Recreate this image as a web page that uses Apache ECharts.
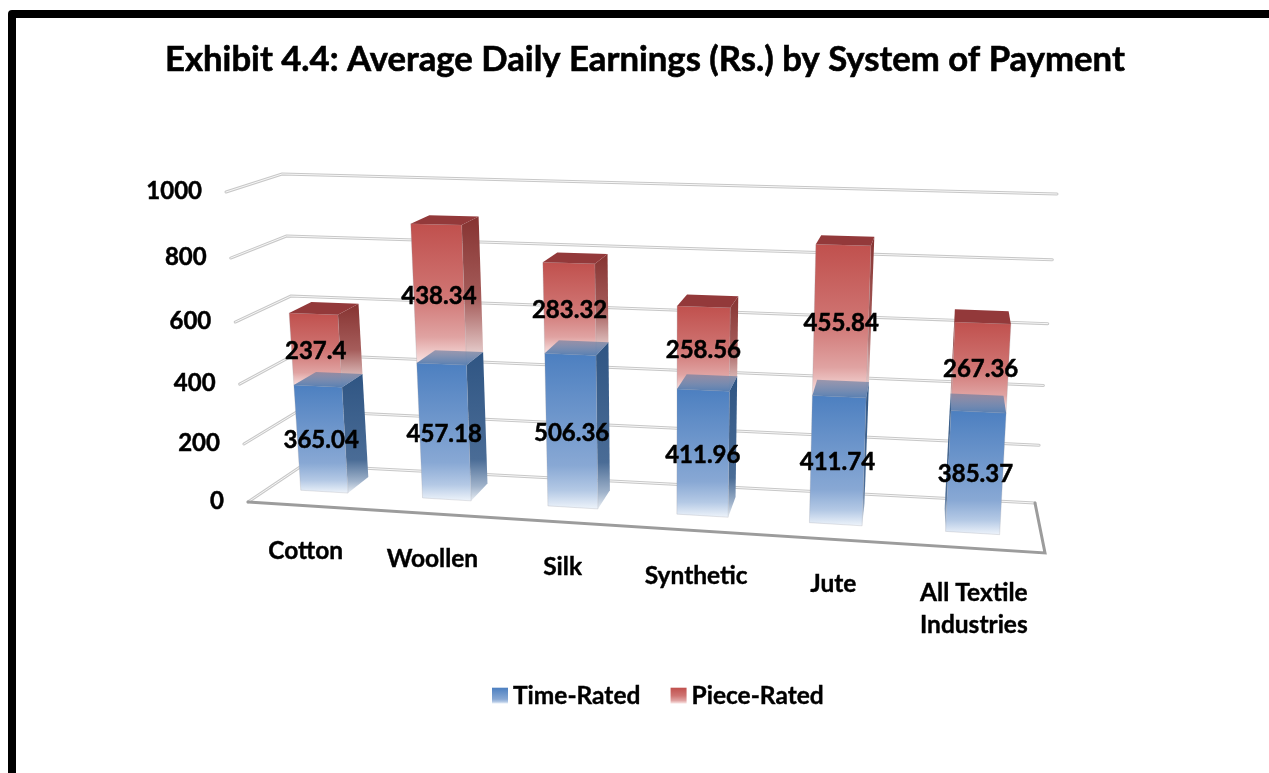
<!DOCTYPE html>
<html><head><meta charset="utf-8">
<style>html,body{margin:0;padding:0;background:#fff}#c{width:1269px;height:773px}</style>
<script src="https://cdn.jsdelivr.net/npm/echarts@6/dist/echarts.min.js"></script>
</head><body><div id="c"></div>
<script>
const titleText = 'Exhibit 4.4: Average Daily Earnings (Rs.) by System of Payment';
const categories = ['Cotton', 'Woollen', 'Silk', 'Synthetic', 'Jute', 'All Textile\nIndustries'];
const timeRated = [365.04, 457.18, 506.36, 411.96, 411.74, 385.37];
const pieceRated = [237.4, 438.34, 283.32, 258.56, 455.84, 267.36];
const tickValues = [0, 200, 400, 600, 800, 1000];

const FONT = 'Lato, "Open Sans", sans-serif';
const G = echarts.graphic;
const grad = (stops) => new G.LinearGradient(0, 0, 0, 1, stops.map((c, i) => ({offset: c[0], color: c[1]})));

// Perspective box calibration: corners of the 3D plot box (front/back, floor/top)
const box = {
  fl0: [248, 502], fr0: [1045, 553], bl0: [303, 465], br0: [1035, 503],
  fl1: [226, 192], fr1: [1064, 208], bl1: [282, 174], br1: [1057, 194]
};
const mix = (a, b, t) => [a[0] + (b[0] - a[0]) * t, a[1] + (b[1] - a[1]) * t];
function project(u, v, d) {
  const w = v * (0.9186 + 0.0814 * v);
  const base = mix(mix(box.fl0, box.fr0, u), mix(box.bl0, box.br0, u), d);
  const top = mix(mix(box.fl1, box.fr1, u), mix(box.bl1, box.br1, u), d);
  return mix(base, top, w);
}
const warpU = (u) => -0.00546 + 0.9279 * u + 0.0781 * u * u;
const BAR_BAND = 0.39, D_BACK = 0.79;
const dFront = (u) => 0.375 - 0.065 * u;

// Grid coordinates -> normalised box coordinates, via the library's own scales
function toBox(params, api, cat, val) {
  const c = api.coord([cat, val]);
  const s = params.coordSys;
  return {u: (c[0] - s.x) / s.width, v: (s.y + s.height - c[1]) / s.height, bw: api.size([1, 0])[0] / s.width};
}

const skins = {
  time: {
    front: grad([[0, '#4c7fc0'], [0.72, '#88a8d4'], [0.88, '#b4c9e5'], [1, '#f0f5fb']]),
    side: grad([[0, '#2f5583'], [0.72, '#4a6c96'], [0.9, '#9fb2ca'], [1, '#e8edf3']]),
    top: grad([[0, 'rgba(100,122,160,0.6)'], [1, 'rgba(84,124,176,0.97)']])
  },
  piece: {
    front: grad([[0, '#c0504d'], [0.5, '#cf7472'], [0.8, '#e0a3a2'], [0.95, '#f5d8d7'], [1, '#fbeeee']]),
    side: grad([[0, '#863331'], [0.55, '#a55c5a'], [0.85, '#d8b4b3'], [1, '#f3e6e6']]),
    top: '#93393a'
  }
};

function barRenderer(skin) {
  return function (params, api) {
    const cat = api.value(0), lo = api.value(1), hi = api.value(2);
    const a = toBox(params, api, cat, lo), b = toBox(params, api, cat, hi);
    const uL = warpU(a.u - a.bw * BAR_BAND / 2), uR = warpU(a.u + a.bw * BAR_BAND / 2);
    const uC = warpU(a.u), dF = dFront(uC);
    const poly = (pts, fill, z2, stroke) => ({
      type: 'polygon', z2: z2, shape: {points: pts},
      style: {fill: fill, stroke: stroke || null, lineWidth: stroke ? 1 : 0}
    });
    const quad = (p, q, r, s) => [p, q, r, s];
    const kids = [];
    const leftBack = project(uL, a.v, D_BACK), leftFront = project(uL, a.v, dF);
    const rightBack = project(uR, a.v, D_BACK), rightFront = project(uR, a.v, dF);
    if (leftBack[0] < leftFront[0]) {
      kids.push(poly(quad(leftFront, leftBack, project(uL, b.v, D_BACK), project(uL, b.v, dF)), skin.side, 1));
    }
    if (rightBack[0] > rightFront[0]) {
      kids.push(poly(quad(rightFront, rightBack, project(uR, b.v, D_BACK), project(uR, b.v, dF)), skin.side, 1));
    }
    kids.push(poly(quad(leftFront, rightFront, project(uR, b.v, dF), project(uL, b.v, dF)),
      skin.front, 2, 'rgba(150,150,160,0.25)'));
    kids.push(poly(quad(project(uL, b.v, dF), project(uR, b.v, dF), project(uR, b.v, D_BACK), project(uL, b.v, D_BACK)), skin.top, 3));
    const mid = project(uC, (a.v + b.v) / 2, dF);
    kids.push({
      type: 'text', z2: 100,
      style: {x: mid[0], y: mid[1] + 1, text: String(api.value(3)), fill: '#000', stroke: '#000', lineWidth: 0.5,
        font: 'bold 24px ' + FONT, align: 'center', verticalAlign: 'middle'}
    });
    return {type: 'group', children: kids};
  };
}

function wallRenderer(params, api) {
  const val = api.value(0);
  const v = toBox(params, api, 0, val).v;
  const fl = project(0, v, 0), bl = project(0, v, 1), br = project(1, v, 1);
  const line = (pts, stroke, w, z2) => ({
    type: 'polyline', z2: z2, shape: {points: pts},
    style: {fill: null, stroke: stroke, lineWidth: w, lineJoin: 'miter', lineCap: 'round'}
  });
  const kids = [line([fl, bl, br], '#c8c8c8', 3, 1), line([fl, bl, br], '#f7f7f7', 1, 2)];
  if (val === 0) {
    const fr = project(1, 0, 0);
    kids.push(line([fl, fr, br], '#9c9c9c', 3, 3));
  }
  kids.push({
    type: 'text', z2: 5,
    style: {x: fl[0] - 24, y: fl[1] - 0.5, text: String(val), fill: '#000', stroke: '#000', lineWidth: 0.5,
      font: 'bold 24px ' + FONT, align: 'right', verticalAlign: 'middle'}
  });
  return {type: 'group', children: kids};
}

function categoryRenderer(params, api) {
  const cat = api.value(0);
  const a = toBox(params, api, cat, 0);
  const p = project(warpU(a.u), 0, 0);
  return {
    type: 'text',
    style: {x: p[0], y: p[1] + 29, text: categories[cat], fill: '#000', stroke: '#000', lineWidth: 0.4,
      font: 'bold 24.5px ' + FONT, lineHeight: 32, align: 'center', verticalAlign: 'top'}
  };
}

const catIdx = categories.map((_, i) => i);
const chart = echarts.init(document.getElementById('c'), null, {renderer: 'canvas', width: 1269, height: 773});
chart.setOption({
  backgroundColor: '#fff',
  animation: false,
  title: {text: titleText, left: 165, top: 42, padding: 0,
    textStyle: {color: '#000', fontFamily: FONT, fontWeight: 'bold', fontSize: 34.7, textBorderColor: '#000', textBorderWidth: 0.6}},
  legend: {
    left: 492, top: 683, padding: 0, itemWidth: 16, itemHeight: 16, itemGap: 30, selectedMode: false, icon: 'rect',
    textStyle: {color: '#000', fontFamily: FONT, fontWeight: 'bold', fontSize: 24.5, textBorderColor: '#000', textBorderWidth: 0.4},
    data: [
      {name: 'Time-Rated', itemStyle: {color: skins.time.front}},
      {name: 'Piece-Rated', itemStyle: {color: skins.piece.front}}
    ]
  },
  grid: {left: 100, top: 100, width: 1000, height: 500},
  xAxis: {type: 'category', data: categories, show: false},
  yAxis: {type: 'value', min: 0, max: 1000, interval: 200, show: false},
  series: [
    {type: 'custom', name: 'walls', z: 1, silent: true, renderItem: wallRenderer,
      data: tickValues.map(v => [v]), encode: {y: 0}, clip: false},
    {type: 'custom', name: 'categories', z: 1, silent: true, renderItem: categoryRenderer,
      data: catIdx.map(i => [i]), encode: {x: 0}, clip: false},
    {type: 'custom', name: 'Piece-Rated', z: 2, renderItem: barRenderer(skins.piece), clip: false,
      itemStyle: {color: skins.piece.front}, encode: {x: 0, y: [1, 2]},
      data: catIdx.map(i => [i, timeRated[i], timeRated[i] + pieceRated[i], pieceRated[i]])},
    {type: 'custom', name: 'Time-Rated', z: 3, renderItem: barRenderer(skins.time), clip: false,
      itemStyle: {color: skins.time.front}, encode: {x: 0, y: [1, 2]},
      data: catIdx.map(i => [i, 0, timeRated[i], timeRated[i]])}
  ],
  graphic: [{
    type: 'polyline', silent: true, z: 0,
    shape: {points: [[12, 773], [12, 14], [1269, 14]]},
    style: {fill: null, stroke: '#000', lineWidth: 8, lineJoin: 'round'}
  }]
});
</script></body></html>
